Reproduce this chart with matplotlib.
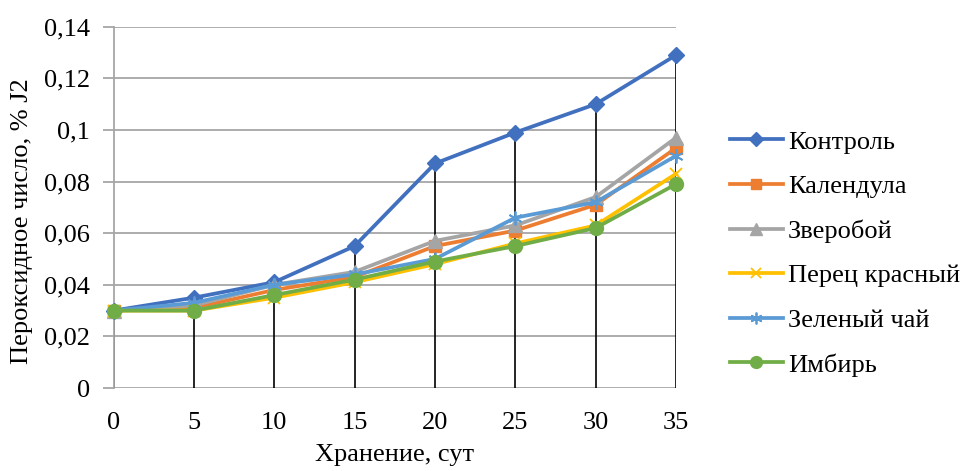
import matplotlib
matplotlib.use("Agg")
import matplotlib.pyplot as plt
from matplotlib.lines import Line2D

plt.rcParams['font.family'] = ['Liberation Serif', 'DejaVu Serif']

days = [0, 5, 10, 15, 20, 25, 30, 35]

kontrol = [0.030, 0.035, 0.041, 0.055, 0.087, 0.099, 0.110, 0.129]
kalendula = [0.030, 0.031, 0.038, 0.043, 0.055, 0.061, 0.071, 0.093]
zveroboy = [0.030, 0.032, 0.040, 0.045, 0.057, 0.063, 0.074, 0.097]
perets = [0.030, 0.030, 0.035, 0.041, 0.048, 0.056, 0.063, 0.083]
zel_chay = [0.030, 0.033, 0.040, 0.044, 0.050, 0.066, 0.072, 0.090]
imbir = [0.030, 0.030, 0.036, 0.042, 0.049, 0.055, 0.062, 0.079]

series_names = ["Контроль", "Календула", "Зверобой", "Перец красный",
                "Зеленый чай", "Имбирь"]
series_values = [kontrol, kalendula, zveroboy, perets, zel_chay, imbir]

y_ticks = [0, 0.02, 0.04, 0.06, 0.08, 0.10, 0.12, 0.14]
y_tick_labels = ["0", "0,02", "0,04", "0,06", "0,08", "0,1", "0,12", "0,14"]

x_title = "Хранение, сут"
y_title = "Пероксидное число, % J2"

colors = ["#4170BF", "#ED7D31", "#A5A5A5", "#FFC000", "#5B9BD5", "#70AD47"]
markers = ["D", "s", "^", "x", (6, 2, 0), "o"]
msizes = [8.5, 9, 10, 9, 10, 10]

FS = 19

fig = plt.figure(figsize=(9.63, 4.71), dpi=100)
ax = fig.add_axes([0.1179, 0.1762, 0.702 - 0.1179, 0.9433 - 0.1762])

# drop lines from the axis up to the highest series at every point
tops = [max(vals) for vals in zip(*series_values)]
ax.vlines(days, 0, tops, colors="black", linewidth=1.2, zorder=2)

handles = []
for name, vals, c, m, ms in zip(series_names, series_values, colors, markers, msizes):
    mew = 1.3 if m in ("x", (6, 2, 0)) else 1.0
    ax.plot(days, vals, color=c, linewidth=2.7, marker=m, markersize=ms,
            markerfacecolor=c, markeredgecolor=c, markeredgewidth=mew,
            clip_on=False, zorder=3)
    handles.append(Line2D([], [], color=c, linewidth=2.7, marker=m,
                          markersize=ms * 0.85, markerfacecolor=c,
                          markeredgecolor=c, markeredgewidth=mew))

ax.set_xlim(0, 35)
ax.set_ylim(0, 0.14)
ax.set_xticks(days)
ax.set_xticklabels([str(d) for d in days])
ax.set_yticks(y_ticks)
ax.set_yticklabels(y_tick_labels)

ax.yaxis.grid(True, color="#A6A6A6", linewidth=1.3, zorder=1)
ax.set_axisbelow(True)
for side in ("top", "right", "bottom"):
    ax.spines[side].set_visible(False)
ax.spines["left"].set_color("#A6A6A6")
ax.spines["left"].set_linewidth(1.3)

ax.tick_params(axis="y", length=8, width=1.3, color="#A6A6A6",
               labelsize=FS, pad=9)
ax.tick_params(axis="x", length=0, labelsize=FS, pad=17)

ax.set_xlabel(x_title, fontsize=FS, va="center")
ax.xaxis.set_label_coords(0.5, -0.186)
ax.set_ylabel(y_title, fontsize=FS, va="center")
ax.yaxis.set_label_coords(-0.163, 0.462)

fig.legend(handles, series_names, loc="center left",
           bbox_to_anchor=(0.747, 0.462), frameon=False, fontsize=FS,
           handlelength=2.0, handletextpad=0.2, labelspacing=0.8,
           borderaxespad=0)

fig.savefig("out.png", dpi=100)
